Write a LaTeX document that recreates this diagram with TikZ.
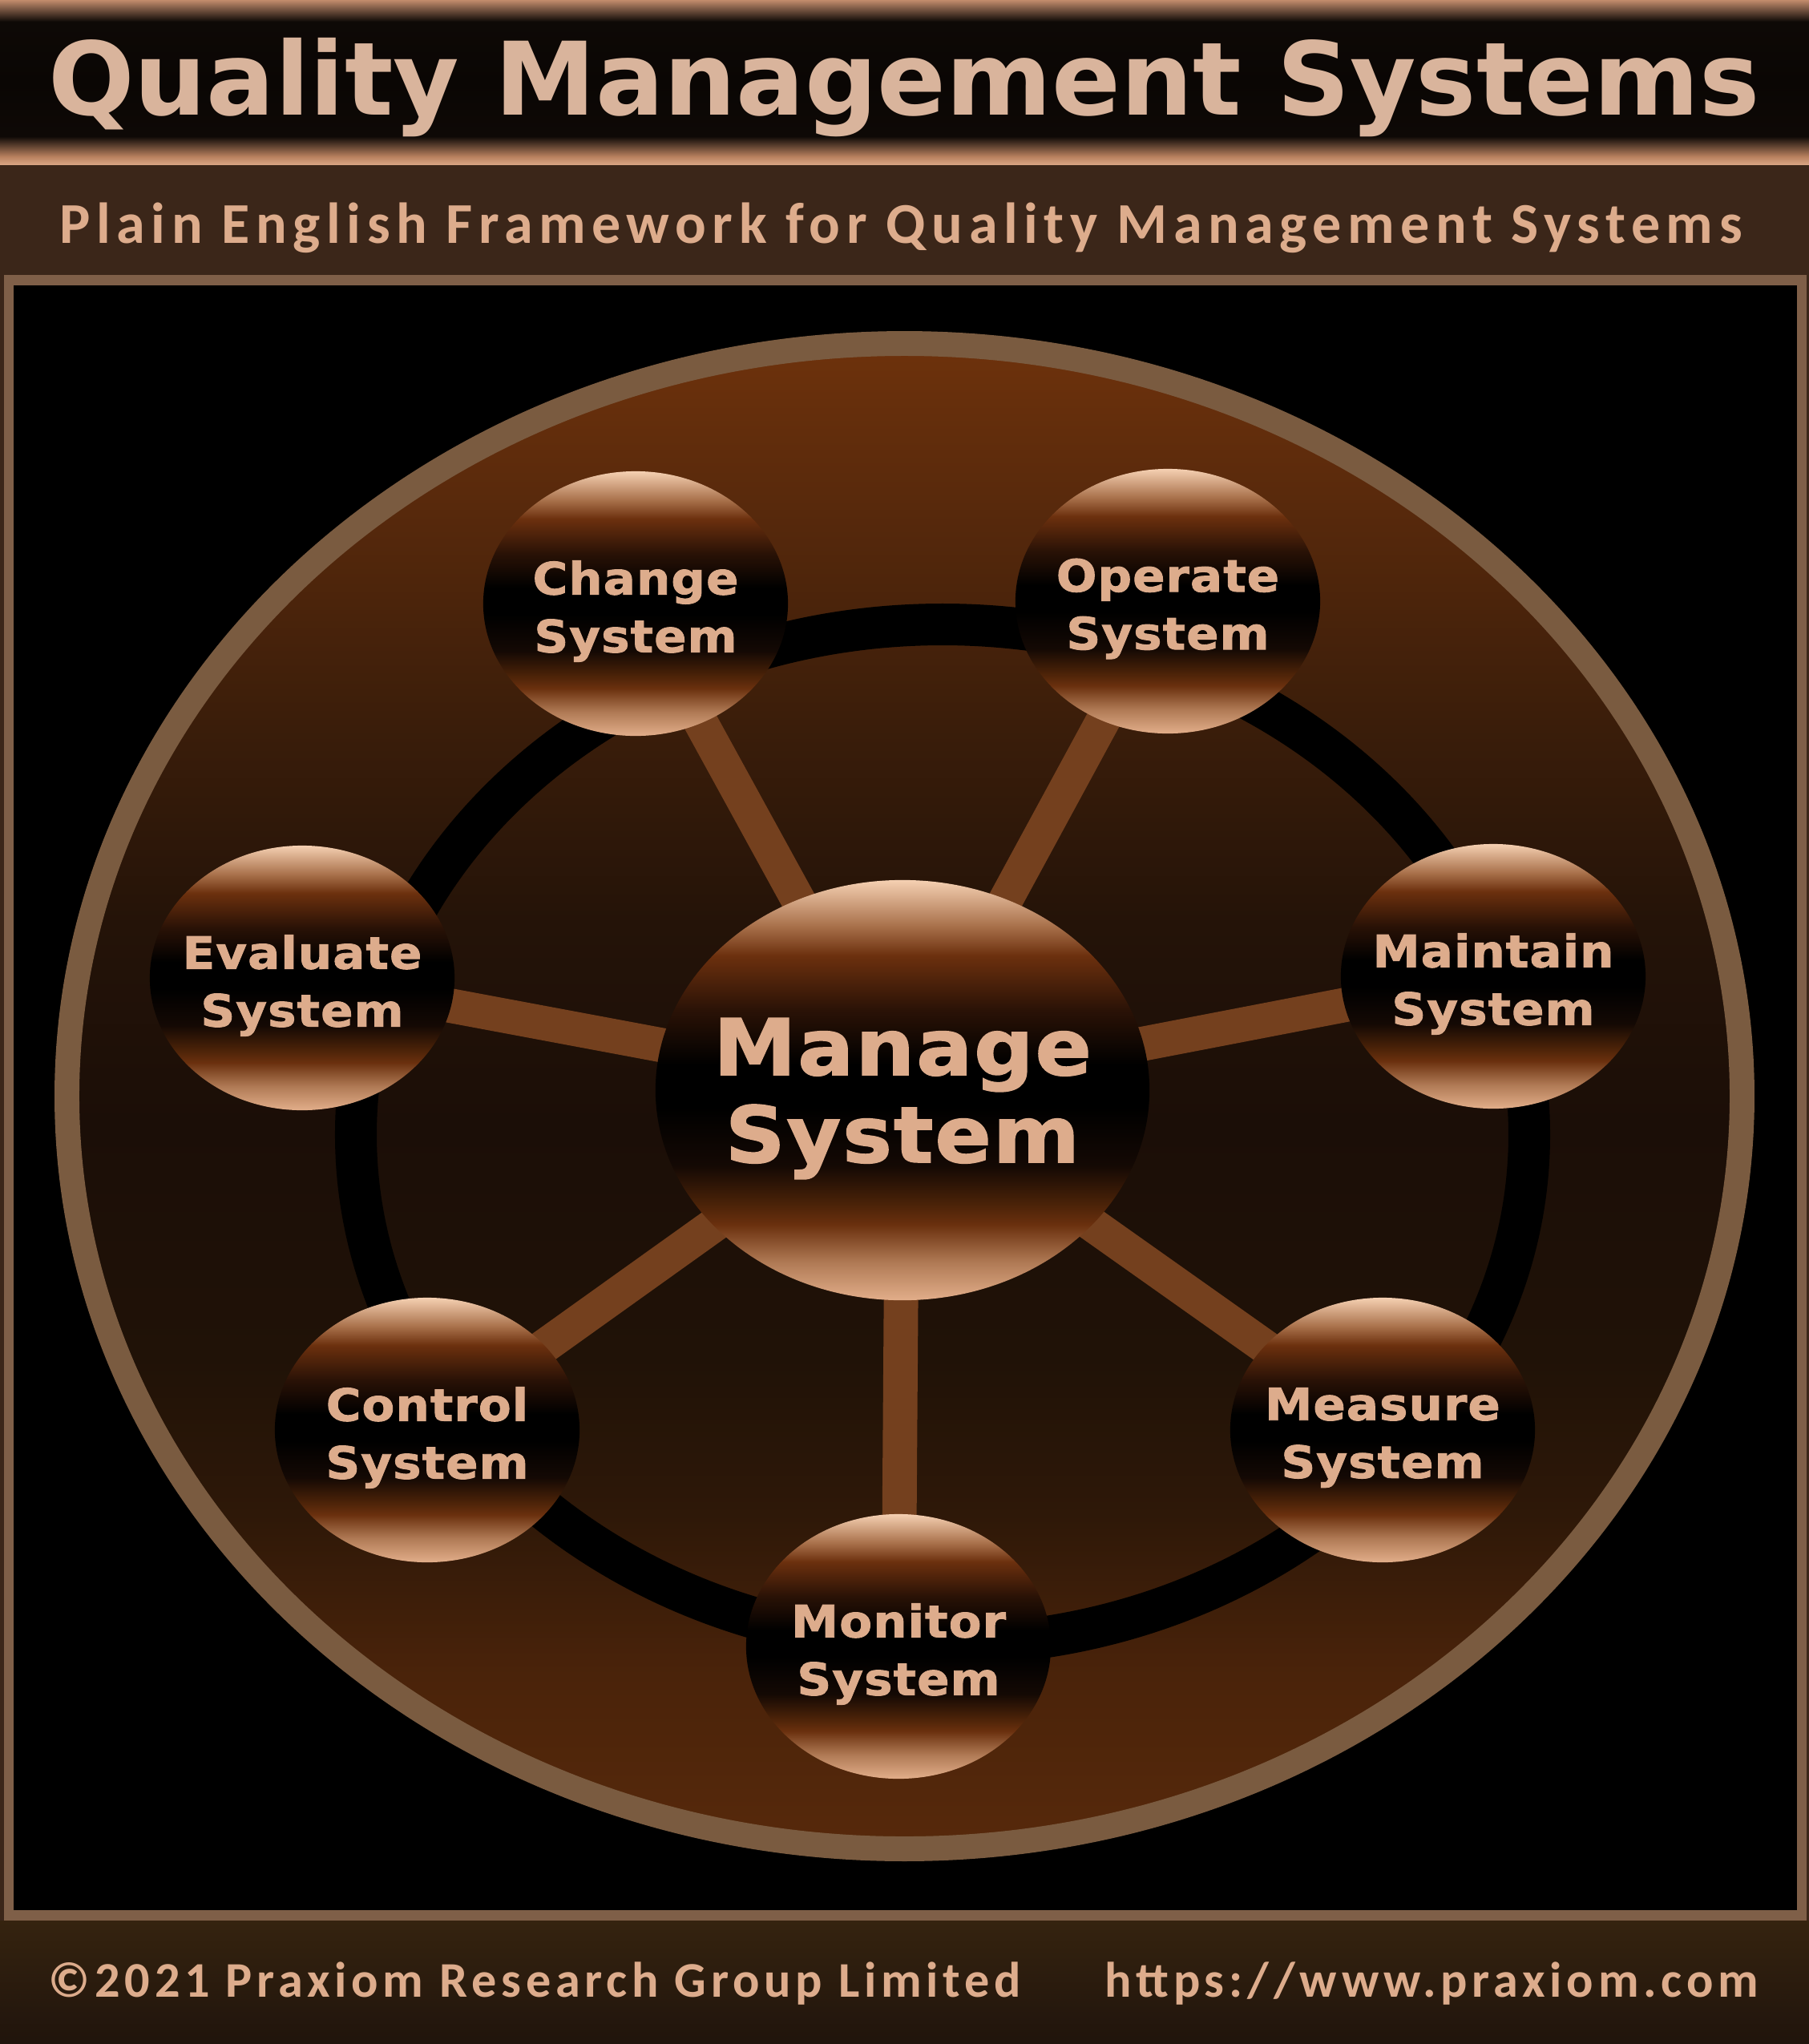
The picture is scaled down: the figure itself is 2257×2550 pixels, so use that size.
\documentclass[tikz,border=0pt]{standalone}
\usepackage{fontspec}
\usepackage{tikz}
\usetikzlibrary{shapes.geometric}
\newfontfamily\titlefont{DejaVu Sans}
\newfontfamily\beadfont{DejaVu Sans Bold}[FakeBold=1.6,FakeStretch=1.07,LetterSpace=2]
\newfontfamily\subfont{Carlito}[LetterSpace=10.5]
\newfontfamily\footfont{Carlito}[LetterSpace=9.3]
% palette
\definecolor{qtan}{HTML}{DDAC8C}
\definecolor{qtitle}{HTML}{D9B49C}
\definecolor{qband}{HTML}{3B2619}
\definecolor{qframe}{HTML}{7F5F48}
\definecolor{qrim}{HTML}{7A5B40}
\definecolor{qspoke}{HTML}{74401E}
\definecolor{qfoottop}{HTML}{35230F}
\definecolor{qfootbot}{HTML}{20140C}
% bead colours, bottom to top
\definecolor{bd0}{HTML}{E2AE8A}
\definecolor{bd1}{HTML}{B07A55}
\definecolor{bd2}{HTML}{6A300E}
\definecolor{bd3}{HTML}{4A2208}
\definecolor{bd4}{HTML}{140904}
\definecolor{bd6}{HTML}{2A1206}
\definecolor{bd7}{HTML}{6C300E}
\definecolor{bd8}{HTML}{A8704A}
\definecolor{bd9}{HTML}{F5D0B2}
% oval colours, bottom to top
\definecolor{ov0}{HTML}{57290B}
\definecolor{ov1}{HTML}{4A230A}
\definecolor{ov2}{HTML}{2E1808}
\definecolor{ov3}{HTML}{201207}
\definecolor{ov4}{HTML}{1B0E07}
\definecolor{ov5}{HTML}{241308}
\definecolor{ov6}{HTML}{3A1D0A}
\definecolor{ov7}{HTML}{5A2A0C}
\definecolor{ov8}{HTML}{6E320C}
% band colours
\definecolor{tb0}{HTML}{D8A482}
\definecolor{tb1}{HTML}{B8805E}
\definecolor{tb2}{HTML}{0E0906}
\definecolor{tb3}{HTML}{0A0604}
\definecolor{tb4}{HTML}{C28C6C}

\pgfdeclareverticalshading{bead}{100bp}{color(0bp)=(bd0); color(25bp)=(bd0);
  color(29.5bp)=(bd1); color(34bp)=(bd2); color(36.5bp)=(bd3); color(41bp)=(bd4);
  color(48bp)=(black); color(53bp)=(black); color(59.5bp)=(bd6); color(66bp)=(bd7);
  color(69.5bp)=(bd8); color(75bp)=(bd9); color(100bp)=(bd9)}
\pgfdeclareverticalshading{bigoval}{100bp}{color(0bp)=(ov0); color(25bp)=(ov0);
  color(30.8bp)=(ov1); color(36.1bp)=(ov2); color(41.3bp)=(ov3); color(49.1bp)=(ov4);
  color(55.7bp)=(ov5); color(62.2bp)=(ov6); color(70.1bp)=(ov7); color(75bp)=(ov8);
  color(100bp)=(ov8)}
\pgfdeclareverticalshading{topband}{100bp}{color(0bp)=(tb0); color(25bp)=(tb0);
  color(27.4bp)=(tb1); color(33.5bp)=(tb2); color(50bp)=(tb3); color(68.4bp)=(tb2);
  color(75bp)=(tb4); color(100bp)=(tb4)}

\pgfdeclarelayer{base}
\pgfdeclarelayer{spokes}
\pgfsetlayers{base,spokes,main}

\begin{document}
\begin{tikzpicture}[x=0.01cm,y=-0.01cm,
    bead/.style={ellipse,shade,shading=bead,inner sep=0pt},
    smallbead/.style={bead,minimum width=3.8cm,minimum height=3.3cm},
    bigbead/.style={bead,minimum width=6.16cm,minimum height=5.24cm},
    smalltxt/.style={font=\beadfont\fontsize{15.8}{20.5}\selectfont,
      text=qtan,align=center,yshift=-2.7pt},
    bigtxt/.style={font=\beadfont\fontsize{27.6}{31}\selectfont,
      text=qtan,align=center,yshift=-3pt},
    spoke/.style={draw=qspoke,line width=12.2pt},
    ring/.style={draw=black,line width=14.8pt},
    rim/.style={draw=qrim,line width=8.8pt},
    foot/.style={font=\footfont\bfseries\fontsize{17.7}{20}\selectfont,text=qtan,inner sep=0pt}]
  \useasboundingbox (0,0) rectangle (2257,2550);

  \begin{pgfonlayer}{base}
    % bands and frame
    \fill[qband] (0,0) rectangle (2257,2396);
    \shade[shading=topband] (0,0) rectangle (2257,205);
    \shade[top color=qfoottop,bottom color=qfootbot] (0,2396) rectangle (2257,2550);
    \fill[qframe] (5,343) rectangle (2254,2396);
    \fill[black] (17,356) rectangle (2242,2383);
    % oval and ring
    \shade[shading=bigoval] (1128.5,1367.5) ellipse [x radius=1045,y radius=939];
    \draw[rim] (1128.5,1367.5) ellipse [x radius=1045,y radius=939];
    \draw[ring] (1176,1415.5) ellipse [x radius=732,y radius=636.5];
  \end{pgfonlayer}

  \node[font=\titlefont\bfseries\fontsize{36}{40}\selectfont,text=qtitle,anchor=base]
    (title) at (1128,143) {Quality Management Systems};
  \node[font=\subfont\bfseries\fontsize{20.5}{24}\selectfont,text=qtan,anchor=base]
    (subtitle) at (1124,303) {Plain English Framework for Quality Management Systems};

  \node[bigbead,label={[bigtxt]center:{Manage\\System}}] (manage) at (1126,1360) {};
  \node[smallbead,label={[smalltxt]center:{Change\\System}}] (change) at (793,753) {};
  \node[smallbead,label={[smalltxt]center:{Operate\\System}}] (operate) at (1457,750) {};
  \node[smallbead,label={[smalltxt]center:{Evaluate\\System}}] (evaluate) at (377,1220) {};
  \node[smallbead,label={[smalltxt]center:{Maintain\\System}}] (maintain) at (1863,1218) {};
  \node[smallbead,label={[smalltxt]center:{Control\\System}}] (control) at (533,1784) {};
  \node[smallbead,label={[smalltxt]center:{Measure\\System}}] (measure) at (1725,1784) {};
  \node[smallbead,label={[smalltxt]center:{Monitor\\System}}] (monitor) at (1121,2054) {};

  \begin{pgfonlayer}{spokes}
    \foreach \n in {change,operate,evaluate,maintain,control,measure,monitor}
      \draw[spoke] (manage.center) -- (\n.center);
  \end{pgfonlayer}

  \node[foot,anchor=base west] (copyright) at (60,2491) {©2021 Praxiom Research Group Limited};
  \node[foot,anchor=base east] (url) at (2195,2491) {https://www.praxiom.com};
\end{tikzpicture}
\end{document}
